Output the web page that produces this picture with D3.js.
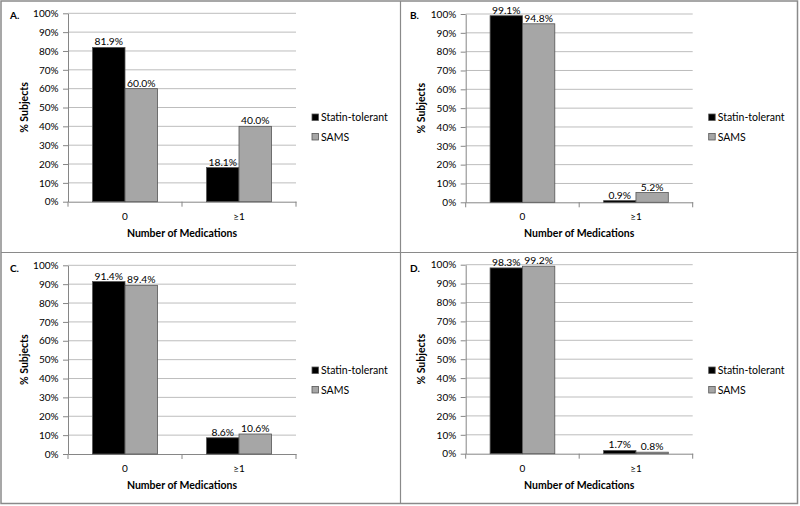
<!DOCTYPE html>
<html>
<head>
<meta charset="utf-8">
<script src="https://cdn.jsdelivr.net/npm/d3@7"></script>
<style>
  html, body { margin: 0; padding: 0; background: #fff; }
  svg { display: block; }
  text { font-family: Lato, "Open Sans", sans-serif; fill: #000; }
</style>
</head>
<body>
<svg id="chart" width="800" height="506"></svg>
<script>
// ---- data ----
const categories = ["0", "≥1"];
const seriesNames = ["Statin-tolerant", "SAMS"];
const panelLabels = ["A.", "B.", "C.", "D."];
const statinTolerant = [[81.9, 18.1], [99.1, 0.9], [91.4, 8.6], [98.3, 1.7]];
const sams = [[60.0, 40.0], [94.8, 5.2], [89.4, 10.6], [99.2, 0.8]];
const yTicks = [0, 10, 20, 30, 40, 50, 60, 70, 80, 90, 100];
const yTitle = "% Subjects";
const xTitle = "Number of Medications";

// ---- layout ----
const colors = ["#000000", "#a6a6a6"];
const panels = [
  { ox: 0,   oy: 0,   left: 68,    right: 296,   top: 13.3,  bottom: 201.7 },
  { ox: 400, oy: 0,   left: 65.7,  right: 292.7, top: 14,    bottom: 202.3 },
  { ox: 0,   oy: 253, left: 68,    right: 296,   top: 12.3,  bottom: 201 },
  { ox: 400, oy: 253, left: 65.7,  right: 292.7, top: 11.7,  bottom: 200.7 }
];

const svg = d3.select("#chart");

// outer frame and dividers
svg.append("rect").attr("x", 1).attr("y", 1).attr("width", 796.5).attr("height", 502.5)
  .attr("fill", "none").attr("stroke", "#8a8a8a").attr("stroke-width", 1.5);
svg.append("line").attr("x1", 400.5).attr("x2", 400.5).attr("y1", 1).attr("y2", 503.5)
  .attr("stroke", "#8a8a8a").attr("stroke-width", 1.2);
svg.append("line").attr("x1", 1).attr("x2", 797.5).attr("y1", 252.5).attr("y2", 252.5)
  .attr("stroke", "#8a8a8a").attr("stroke-width", 1.2);

panels.forEach((p, i) => {
  const g = svg.append("g").attr("transform", `translate(${p.ox},${p.oy})`);
  const vals = [statinTolerant[i], sams[i]];

  const y = d3.scaleLinear().domain([0, 100]).range([p.bottom, p.top]);
  const x0 = d3.scaleBand().domain(categories).range([p.left, p.right]).padding(0);
  const bw = x0.bandwidth();
  const gw = bw * 0.57;
  const x1 = d3.scaleBand().domain(seriesNames).range([(bw - gw) / 2, (bw + gw) / 2]).padding(0);

  // gridlines
  g.append("g").selectAll("line").data(yTicks.filter(t => t > 0)).join("line")
    .attr("x1", p.left).attr("x2", p.right)
    .attr("y1", d => y(d)).attr("y2", d => y(d))
    .attr("stroke", "#bdbdbd").attr("stroke-width", 1);

  // y axis
  const yAxis = g.append("g").attr("transform", `translate(${p.left},0)`)
    .call(d3.axisLeft(y).tickValues(yTicks).tickFormat(d => d + "%").tickSize(5).tickSizeOuter(0));
  yAxis.select(".domain").attr("stroke", "#868686");
  yAxis.selectAll(".tick line").attr("stroke", "#868686");
  yAxis.selectAll(".tick text").attr("font-size", "10px").attr("font-family", "Lato, sans-serif")
    .attr("x", -9.5).attr("fill", "#000");

  // x axis
  const xAxis = g.append("g").attr("transform", `translate(0,${p.bottom})`)
    .call(d3.axisBottom(x0).tickSize(0).tickSizeOuter(0));
  xAxis.select(".domain").attr("stroke", "#868686");
  xAxis.selectAll(".tick text").attr("font-size", "10px").attr("font-family", "Lato, sans-serif")
    .attr("y", 11).attr("fill", "#000");
  // boundary ticks
  const bounds = [p.left, p.left + bw, p.right];
  xAxis.append("g").selectAll("line").data(bounds).join("line")
    .attr("x1", d => d).attr("x2", d => d).attr("y1", 0).attr("y2", 5)
    .attr("stroke", "#868686");

  // bars
  categories.forEach((c, ci) => {
    seriesNames.forEach((s, si) => {
      const v = vals[si][ci];
      const bx = x0(c) + x1(s);
      g.append("rect")
        .attr("x", bx).attr("y", y(v))
        .attr("width", x1.bandwidth()).attr("height", p.bottom - y(v))
        .attr("fill", colors[si]).attr("stroke", "#555").attr("stroke-width", 0.8);
      g.append("text")
        .attr("x", bx + x1.bandwidth() / 2).attr("y", y(v) - 2)
        .attr("text-anchor", "middle").attr("font-size", "10.3px")
        .text(v.toFixed(1) + "%");
    });
  });

  // titles
  g.append("text").attr("x", (p.left + p.right) / 2).attr("y", p.bottom + 35)
    .attr("text-anchor", "middle").attr("font-size", "10.5px").attr("font-weight", "bold")
    .text(xTitle);
  g.append("text")
    .attr("transform", `translate(${p.left - 44},${(p.top + p.bottom) / 2}) rotate(-90)`)
    .attr("text-anchor", "middle").attr("font-size", "10.5px").attr("font-weight", "bold")
    .attr("dy", "0.35em")
    .text(yTitle);

  // panel label
  g.append("text").attr("x", 10).attr("y", 19).attr("font-size", "10px").attr("font-weight", "bold")
    .text(panelLabels[i]);

  // legend
  const lx = p.right + 16;
  const ly = [114, 133.5];
  seriesNames.forEach((s, si) => {
    g.append("rect").attr("x", lx).attr("y", ly[si]).attr("width", 6.5).attr("height", 6.5)
      .attr("fill", colors[si]).attr("stroke", "#555").attr("stroke-width", 0.8);
    g.append("text").attr("x", lx + 9).attr("y", ly[si] + 7).attr("font-size", "10.5px")
      .text(s);
  });
});
</script>
</body>
</html>
